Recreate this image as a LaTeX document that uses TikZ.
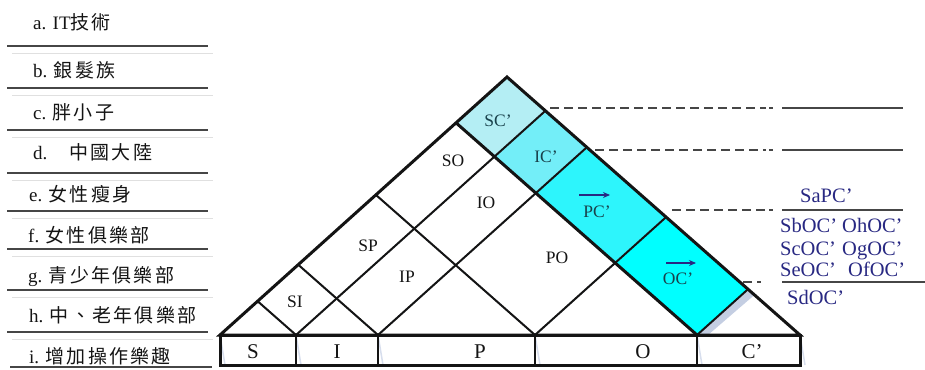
\documentclass[tikz,border=0pt]{standalone}
\usepackage{fontspec}
\setmainfont{Liberation Serif}
\newfontfamily\cjk[LetterSpace=12]{Noto Sans CJK TC}
\usetikzlibrary{arrows.meta}
\definecolor{navy}{RGB}{40,40,130}
\definecolor{scfill}{RGB}{180,238,244}
\definecolor{icfill}{RGB}{115,238,248}
\definecolor{pcfill}{RGB}{45,245,252}
\definecolor{ocfill}{RGB}{0,255,255}
\definecolor{shadowc}{RGB}{205,214,232}
\definecolor{stripc}{RGB}{196,206,226}
\definecolor{ink}{RGB}{20,20,20}
\definecolor{rulec}{RGB}{70,70,70}
\definecolor{celltext}{RGB}{25,65,75}
\begin{document}
\begin{tikzpicture}[x=1pt,y=-1pt,
  outline/.style={line width=3pt, draw=ink, line join=miter},
  gridline/.style={line width=2pt, draw=ink},
  shadowline/.style={line width=1.5pt, draw=shadowc, opacity=0.8},
  listrule/.style={line width=1.8pt, draw=rulec},
  listfaint/.style={line width=0.8pt, draw=black!12},
  listtext/.style={anchor=base west, inner sep=0pt, text=ink, font=\fontsize{19}{19}\selectfont},
  cell/.style={inner sep=0pt, text=ink, font=\fontsize{17.5}{17.5}\selectfont},
  cyancell/.style={cell, text=celltext},
  baselbl/.style={anchor=base, inner sep=0pt, text=ink, font=\fontsize{21}{21}\selectfont},
  rlabel/.style={anchor=base west, inner sep=0pt, text=navy, font=\fontsize{20.5}{20.5}\selectfont},
  dashrule/.style={line width=1.8pt, draw=rulec, dash pattern=on 9pt off 5pt},
  solidrule/.style={line width=2pt, draw=rulec},
  vecarrow/.style={draw=navy, line width=1.4pt, -{Stealth[length=7pt,width=6pt]}}
]
\useasboundingbox (0,0) rectangle (925,369);

% ---------- left list ----------
\foreach \yy in {46,88,130,173,211,249,290,332}{
  \draw[listfaint] (12,\yy+7) -- (213,\yy+7);
  \draw[listrule] (7,\yy) -- (208,\yy);
}
\draw[listrule] (10,367) -- (212,367);
\node[listtext] (la) at (33,30) {a. IT{\cjk 技術}};
\node[listtext] (lb) at (33,77) {b. {\cjk 銀髮族}};
\node[listtext] (lc) at (33,119) {c. {\cjk 胖小子}};
\node[listtext] (ld) at (33,159) {d.\hspace{22pt}{\cjk 中國大陸}};
\node[listtext] (le) at (29,201) {e. {\cjk 女性瘦身}};
\node[listtext] (lf) at (28,242) {f. {\cjk 女性俱樂部}};
\node[listtext] (lg) at (28,282) {g. {\cjk 青少年俱樂部}};
\node[listtext] (lh) at (29,322) {h. {\cjk 中、老年俱樂部}};
\node[listtext] (li) at (29,363) {i. {\cjk 增加操作樂趣}};

% ---------- triangle geometry ----------
\coordinate (A) at (507,77);
\coordinate (BL) at (220,335);
\coordinate (BR) at (800,335);
\coordinate (b1) at (296,335);
\coordinate (b2) at (378,335);
\coordinate (b3) at (535,335);
\coordinate (b4) at (697,335);
\coordinate (L1) at (257.6,301.2);
\coordinate (L2) at (298.2,264.7);
\coordinate (L3) at (375.9,194.9);
\coordinate (L4) at (456.0,122.8);
\coordinate (R1) at (545.4,110.8);
\coordinate (R2) at (586.8,147.3);
\coordinate (R3) at (666.1,217.1);
\coordinate (R4) at (748.0,289.2);
\coordinate (X14) at (494.4,156.6);
\coordinate (X24) at (535.9,193.1);
\coordinate (X34) at (615.2,262.9);
\coordinate (BB1) at (220,365);
\coordinate (BB2) at (800,365);

% fills
\fill[scfill] (L4) -- (A) -- (R1) -- (X14) -- cycle;
\fill[icfill] (X14) -- (R1) -- (R2) -- (X24) -- cycle;
\fill[pcfill] (X24) -- (R2) -- (R3) -- (X34) -- cycle;
\fill[ocfill] (X34) -- (R3) -- (R4) -- (b4) -- cycle;
% light strip beside the OC' cell
\fill[stripc] (b4) -- (R4) -- (754.5,294.9) -- (708,335) -- cycle;

% faint offset shadow
\begin{scope}[shift={(5,5)}]
  \draw[shadowline] (BL) -- (A);
  \draw[shadowline] (BL) -- (BR);
  \draw[shadowline] (b1) -- (L1) (b2) -- (L2) (b3) -- (L3) (b4) -- (L4);
  \draw[shadowline] (b1) -- (R1) (b2) -- (R2) (b3) -- (R3);
  \draw[shadowline] (BL) -- (220,360);
  \draw[shadowline] (b1) -- (296,360) (b2) -- (378,360) (b3) -- (535,360) (b4) -- (697,360) (BR) -- (800,360);
\end{scope}

% grid lines
\draw[gridline] (b1) -- (L1) (b2) -- (L2) (b3) -- (L3);
\draw[gridline] (b1) -- (R1) (b2) -- (R2) (b3) -- (R3) (b4) -- (R4);
\draw[outline] (b4) -- (L4);
\draw[outline] (BL) -- (A) -- (BR) -- cycle;

% bottom bar
\draw[outline] (BL) rectangle (BB2);
\draw[line width=2.5pt, draw=ink] (b1) -- (296,365) (b2) -- (378,365) (b3) -- (535,365) (b4) -- (697,365);

% cell labels
\node[cell] (SI) at (295,302) {SI};
\node[cell] (SP) at (368,246) {SP};
\node[cell] (IP) at (407,277) {IP};
\node[cell] (SO) at (453,161) {SO};
\node[cell] (IO) at (486,203) {IO};
\node[cell] (PO) at (557,258) {PO};
\node[cyancell] (SC) at (498,121) {SC’};
\node[cyancell] (IC) at (546,157) {IC’};
\node[cyancell] (PC) at (597,212) {PC’};
\node[cyancell] (OC) at (678,279) {OC’};
\draw[vecarrow] ([shift={(-18,-17)}]PC.center) -- ++(31,0);
\draw[vecarrow] ([shift={(-12,-16)}]OC.center) -- ++(30,0);

% base labels
\node[baselbl] (bS) at (253,358) {S};
\node[baselbl] (bI) at (337,358) {I};
\node[baselbl] (bP) at (480,358) {P};
\node[baselbl] (bO) at (643,358) {O};
\node[baselbl] (bC) at (752,358) {C’};

% right-hand rules
\coordinate (d1a) at (550,108); \coordinate (d1b) at (766,108);
\coordinate (d2a) at (595,150); \coordinate (d2b) at (766,150);
\coordinate (d3a) at (672,210); \coordinate (d3b) at (766,210);
\coordinate (d4a) at (743,282); \coordinate (d4b) at (752,282);
\draw[dashrule] (d1a) -- (d1b);
\draw[dashrule] (d2a) -- (d2b);
\draw[dashrule] (d3a) -- (d3b);
\draw[dashrule] (d4a) -- (d4b);
\draw[line width=1.8pt, draw=rulec] (769,108) -- (773,108) (769,150) -- (773,150) (769,210) -- (773,210) (757,282) -- (761,282);
\coordinate (s1a) at (782,108); \coordinate (s1b) at (903,108);
\coordinate (s2a) at (782,150); \coordinate (s2b) at (903,150);
\coordinate (s3a) at (782,210); \coordinate (s3b) at (903,210);
\coordinate (s4a) at (782,282); \coordinate (s4b) at (925,282);
\draw[solidrule] (s1a) -- (s1b);
\draw[solidrule] (s2a) -- (s2b);
\draw[solidrule] (s3a) -- (s3b);
\draw[solidrule] (s4a) -- (s4b);

% right-hand labels
\node[rlabel] (SaPC) at (800,202) {SaPC’};
\node[rlabel] (SbOC) at (780,232) {SbOC’};
\node[rlabel] (OhOC) at (842,232) {OhOC’};
\node[rlabel] (ScOC) at (780,255) {ScOC’};
\node[rlabel] (OgOC) at (842,255) {OgOC’};
\node[rlabel] (SeOC) at (780,276) {SeOC’};
\node[rlabel] (OfOC) at (848,276) {OfOC’};
\node[rlabel] (SdOC) at (787,304) {SdOC’};
\end{tikzpicture}
\end{document}
